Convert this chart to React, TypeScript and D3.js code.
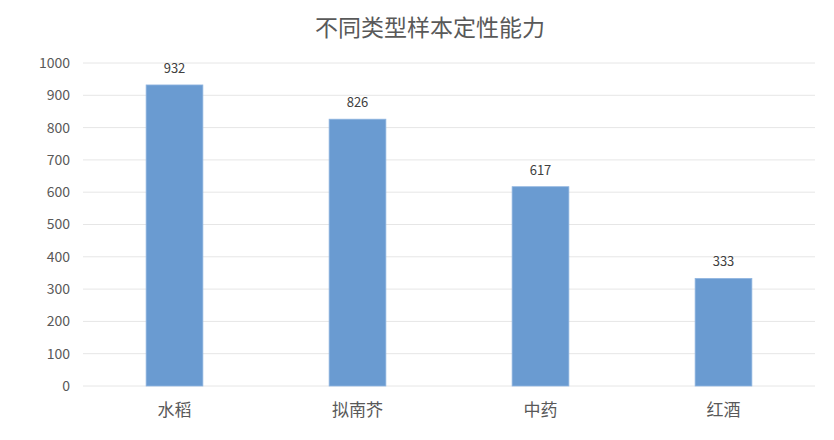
import * as d3 from 'd3';
import React from 'react';

const categories = ['水稻', '拟南芥', '中药', '红酒'];
const values = [932, 826, 617, 333];
const yTicks = [0, 100, 200, 300, 400, 500, 600, 700, 800, 900, 1000];
const chartTitle = '不同类型样本定性能力';

const WIDTH = 834;
const HEIGHT = 440;
const margin = { top: 63, right: 19, bottom: 54, left: 83 };
const FONT = '"Microsoft YaHei", "Noto Sans CJK SC", "DejaVu Sans", sans-serif';

export default function App() {
  const innerW = WIDTH - margin.left - margin.right;
  const innerH = HEIGHT - margin.top - margin.bottom;

  const x = d3.scaleBand().domain(categories).range([0, innerW]).paddingInner(0.69).paddingOuter(0.345);
  const y = d3.scaleLinear().domain([0, 1000]).range([innerH, 0]);

  return (
    <svg
      width={WIDTH}
      height={HEIGHT}
      style={{ position: 'absolute', left: 0, top: 0, background: '#fff' }}
      fontFamily={FONT}
    >
      <text x={430} y={36} textAnchor="middle" fontSize={23} fill="#595959">
        {chartTitle}
      </text>
      <g transform={`translate(${margin.left},${margin.top})`}>
        {yTicks.map(t => (
          <g key={t}>
            <line x1={0} x2={innerW} y1={y(t)} y2={y(t)} stroke="#e6e6e6" strokeWidth={1} />
            <text x={-13} y={y(t)} dy="0.35em" textAnchor="end" fontSize={14} fill="#595959">
              {t}
            </text>
          </g>
        ))}
        {categories.map((c, i) => (
          <g key={c}>
            <rect
              x={x(c)}
              y={y(values[i])}
              width={x.bandwidth()}
              height={innerH - y(values[i])}
              fill="#6a9bd1"
              stroke="#8fb5e0"
              strokeWidth={0.8}
            />
            <text
              x={(x(c) || 0) + x.bandwidth() / 2}
              y={y(values[i]) - 12}
              textAnchor="middle"
              fontSize={13}
              fill="#404040"
            >
              {values[i]}
            </text>
            <text
              x={(x(c) || 0) + x.bandwidth() / 2}
              y={innerH + 30}
              textAnchor="middle"
              fontSize={17}
              fill="#595959"
            >
              {c}
            </text>
          </g>
        ))}
      </g>
    </svg>
  );
}
